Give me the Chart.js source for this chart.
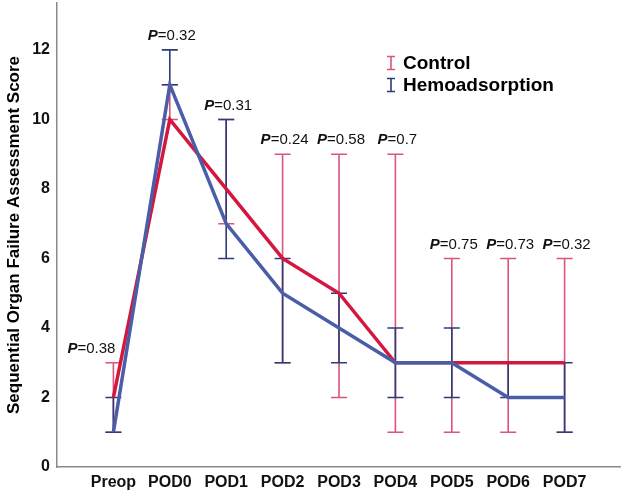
<!DOCTYPE html>
<html>
<head>
<meta charset="utf-8">
<script src="https://cdn.jsdelivr.net/npm/chart.js@4/dist/chart.umd.min.js"></script>
<style>
  html, body { margin: 0; padding: 0; background: #fff; }
</style>
</head>
<body>
<canvas id="chart" width="621" height="493"></canvas>
<script>
const categories = ['Preop', 'POD0', 'POD1', 'POD2', 'POD3', 'POD4', 'POD5', 'POD6', 'POD7'];
const pValues = ['0.38', '0.32', '0.31', '0.24', '0.58', '0.7', '0.75', '0.73', '0.32'];

// medians with interquartile ranges
const controlMedian = [2, 10, 8, 6, 5, 3, 3, 3, 3];
const controlLow    = [1, 10, 7, 3, 2, 1, 1, 1, 1];
const controlHigh   = [3, 11, 10, 9, 9, 9, 6, 6, 6];

const hemoMedian = [1, 11, 7, 5, 4, 3, 3, 2, 2];
const hemoLow    = [1, 11, 6, 3, 3, 2, 2, 2, 1];
const hemoHigh   = [2, 12, 10, 6, 5, 4, 4, 3, 3];

const yTicks = [0, 2, 4, 6, 8, 10, 12];

const RED = '#d3173f';
const BLUE = '#4a5ea8';
const RED_BAR = '#dc5578';
const BLUE_BAR = '#2e3b7a';
const FONT = '"Liberation Sans", Arial, sans-serif';

function toPoints(arr) {
    return arr.map((v, i) => ({ x: i, y: v }));
}

const errorBars = {
    id: 'errorBars',
    beforeDatasetsDraw(chart) {
        const ctx = chart.ctx;
        const xs = chart.scales.x;
        const ys = chart.scales.y;
        const groups = [
            { low: controlLow, high: controlHigh, color: RED_BAR },
            { low: hemoLow, high: hemoHigh, color: BLUE_BAR }
        ];
        ctx.save();
        ctx.lineWidth = 1.6;
        groups.forEach(g => {
            ctx.strokeStyle = g.color;
            categories.forEach((c, i) => {
                const x = xs.getPixelForValue(i);
                const y1 = ys.getPixelForValue(g.low[i]);
                const y2 = ys.getPixelForValue(g.high[i]);
                ctx.beginPath();
                ctx.moveTo(x, y1);
                ctx.lineTo(x, y2);
                ctx.moveTo(x - 8, y1);
                ctx.lineTo(x + 8, y1);
                ctx.moveTo(x - 8, y2);
                ctx.lineTo(x + 8, y2);
                ctx.stroke();
            });
        });
        ctx.restore();
    },
    afterDatasetsDraw(chart) {
        const ctx = chart.ctx;
        const xs = chart.scales.x;
        const ys = chart.scales.y;
        ctx.save();
        ctx.fillStyle = '#111';
        ctx.textBaseline = 'middle';
        categories.forEach((c, i) => {
            const top = Math.max(controlHigh[i], hemoHigh[i]);
            // first label sits left of its bar
            const x = xs.getPixelForValue(i) + (i === 0 ? -22 : 2);
            const y = ys.getPixelForValue(top) - 14;
            ctx.font = 'italic bold 15px ' + FONT;
            const wP = ctx.measureText('P').width;
            ctx.font = '15px ' + FONT;
            const wR = ctx.measureText('=' + pValues[i]).width;
            const start = x - (wP + wR) / 2;
            ctx.textAlign = 'left';
            ctx.font = 'italic bold 15px ' + FONT;
            ctx.fillText('P', start, y);
            ctx.font = '15px ' + FONT;
            ctx.fillText('=' + pValues[i], start + wP, y);
        });

        // legend
        const items = [
            { label: 'Control', color: RED_BAR, y: 63 },
            { label: 'Hemoadsorption', color: BLUE_BAR, y: 85 }
        ];
        ctx.lineWidth = 1.6;
        items.forEach(it => {
            const mx = 391;
            ctx.strokeStyle = it.color;
            ctx.beginPath();
            ctx.moveTo(mx, it.y - 6.5);
            ctx.lineTo(mx, it.y + 6.5);
            ctx.moveTo(mx - 4, it.y - 6.5);
            ctx.lineTo(mx + 4, it.y - 6.5);
            ctx.moveTo(mx - 4, it.y + 6.5);
            ctx.lineTo(mx + 4, it.y + 6.5);
            ctx.stroke();
            ctx.fillStyle = '#000';
            ctx.font = 'bold 19px ' + FONT;
            ctx.textAlign = 'left';
            ctx.fillText(it.label, 403, it.y + 1);
        });
        ctx.restore();
    }
};

new Chart(document.getElementById('chart'), {
    type: 'line',
    data: {
        datasets: [
            {
                label: 'Hemoadsorption',
                data: toPoints(hemoMedian),
                borderColor: BLUE,
                borderWidth: 3.5,
                pointRadius: 0,
                tension: 0,
                fill: false
            },
            {
                label: 'Control',
                data: toPoints(controlMedian),
                borderColor: RED,
                borderWidth: 3.5,
                pointRadius: 0,
                tension: 0,
                fill: false
            }
        ]
    },
    options: {
        responsive: false,
        animation: false,
        devicePixelRatio: 1,
        layout: { padding: { top: 3, right: 0, left: 0, bottom: 0 } },
        scales: {
            x: {
                type: 'linear',
                min: -1,
                max: 9,
                grid: { display: false, drawTicks: false },
                border: { display: true, color: '#8a8a8a', width: 1.5 },
                afterBuildTicks: axis => {
                    axis.ticks = categories.map((c, i) => ({ value: i }));
                },
                afterFit: axis => {
                    axis.height = 26;
                    axis.paddingLeft = 0;
                    axis.paddingRight = 0;
                },
                ticks: {
                    autoSkip: false,
                    maxRotation: 0,
                    padding: 6,
                    color: '#111',
                    font: { family: FONT, size: 16, weight: 'bold' },
                    callback: v => categories[v]
                }
            },
            y: {
                min: 0,
                max: 13.35,
                grid: { display: false, drawTicks: false },
                border: { display: true, color: '#8a8a8a', width: 1.5 },
                afterBuildTicks: axis => {
                    axis.ticks = yTicks.map(v => ({ value: v }));
                },
                afterFit: axis => {
                    axis.width = 57;
                    axis.paddingTop = 0;
                    axis.paddingBottom = 0;
                },
                ticks: {
                    padding: 7,
                    color: '#111',
                    font: { family: FONT, size: 16, weight: 'bold' }
                },
                title: {
                    display: true,
                    text: 'Sequential Organ Failure Assessment Score',
                    color: '#000',
                    padding: 4,
                    font: { family: FONT, size: 17, weight: 'bold' }
                }
            }
        },
        plugins: {
            legend: { display: false },
            tooltip: { enabled: false }
        }
    },
    plugins: [errorBars]
});
</script>
</body>
</html>
